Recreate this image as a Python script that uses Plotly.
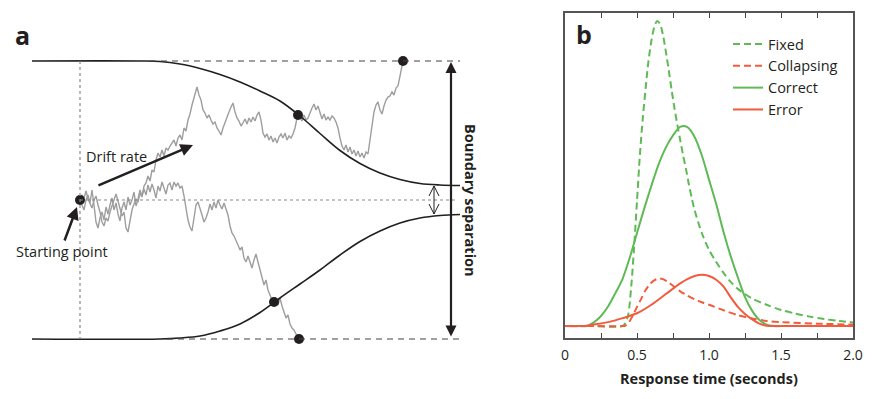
import plotly.graph_objects as go

FONT = "Open Sans"
INK = "#231f20"
GREEN = "#5fba55"
RED = "#f25c3e"
WALK = "#9e9e9e"

# ---------------- Panel b data (response time in s, density in arbitrary units) ----
t_fixed = [0, 0.2, 0.40, 0.42, 0.44, 0.46, 0.48, 0.50, 0.52, 0.54, 0.56, 0.58, 0.60, 0.62, 0.64,
           0.66, 0.68, 0.70, 0.72, 0.74, 0.76, 0.78, 0.80, 0.82, 0.84, 0.86, 0.88, 0.90, 0.95, 1.00,
           1.05, 1.10, 1.15, 1.20, 1.30, 1.40, 1.50, 1.60, 1.70, 1.80, 1.90, 2.00]
fixed = [0, 0, 0, 1, 4, 13, 26, 41, 56, 68, 78, 87, 93.5, 98, 100,
         99, 95.5, 90, 84, 77.5, 71.5, 66, 61, 56, 51.5, 46.5, 42, 38, 30.5, 25,
         21, 17.5, 14.5, 12.2, 9, 7, 5.3, 4.1, 3.1, 2.3, 1.7, 1.2]

t_collapsing = [0, 0.2, 0.40, 0.42, 0.44, 0.46, 0.48, 0.50, 0.53, 0.56, 0.59, 0.62, 0.65, 0.68, 0.71,
                0.75, 0.80, 0.85, 0.90, 0.95, 1.00, 1.10, 1.20, 1.30, 1.40, 1.50, 1.75, 2.00]
collapsing = [0, 0, 0, 0.2, 1, 2.5, 4.3, 6.3, 9, 11.8, 13.8, 15, 15.6, 15.4, 14.6,
              13.2, 11.4, 10, 8.8, 7.8, 7, 5.2, 3.6, 2.5, 1.7, 1.3, 0.8, 0.5]

t_correct = [0, 0.10, 0.15, 0.20, 0.25, 0.30, 0.35, 0.40, 0.45, 0.50, 0.55, 0.60, 0.65, 0.70, 0.75,
             0.80, 0.85, 0.90, 0.95, 1.00, 1.05, 1.10, 1.15, 1.20, 1.25, 1.30, 1.35, 1.40, 1.45,
             1.50, 1.75, 2.00]
correct = [0, 0, 0, 1.2, 3.3, 6.5, 10.8, 15.5, 22.5, 30.5, 38.5, 46, 53, 58.5, 62.5,
           65.3, 65.2, 62, 56, 48, 40, 31, 23, 16, 9.5, 5, 2, 0.5, 0,
           0, 0, 0]

t_error = [0, 0.10, 0.15, 0.20, 0.30, 0.40, 0.50, 0.60, 0.70, 0.80, 0.85, 0.90, 0.95, 1.00, 1.05,
           1.10, 1.15, 1.20, 1.25, 1.30, 1.35, 1.40, 1.45, 1.50, 1.75, 2.00]
error = [0, 0, 0.1, 0.5, 1.3, 2.6, 4.2, 7, 10.5, 14, 15.4, 16.4, 16.8, 16.4, 15.2,
         13, 9.5, 6.3, 4, 2.2, 0.8, 0.1, 0, 0, 0, 0]

x_tickvals = [0, 0.25, 0.5, 0.75, 1.0, 1.25, 1.5, 1.75, 2.0]
x_ticktext = ["0", "", "0.5", "", "1.0", "", "1.5", "", "2.0"]

# ---------------- Panel a data (diagram units: time -> right, evidence -> up) ----------
START_X, START_Y = 80, 200
BOUND_TOP, BOUND_BOT = 61, 339
BOUND_X1 = 460

upper_x = [32, 140, 160, 180, 200, 220, 240, 260, 280, 300, 320, 340, 360, 380, 400, 420, 440, 460]
upper_d = [139, 139, 138.5, 136, 131.5, 125.5, 118, 109, 99, 84, 66.5, 49.5, 36.5, 27, 20.5, 16.5, 15, 14.5]
lower_x = [32, 160, 180, 200, 220, 240, 260, 280, 300, 320, 340, 360, 380, 400, 420, 440, 460]
lower_d = [139, 139, 138, 136, 131, 124, 112.5, 98, 84, 70, 55, 41.5, 31, 23, 18, 15.5, 14.5]

walk_a_x = [80, 82, 84, 86, 88, 90, 92, 94, 96, 98, 100, 102, 104, 106, 108, 110, 112, 114, 116, 118,
            120, 122, 124, 126, 128, 130, 132, 134, 136, 138, 140, 142, 144, 146, 148, 150, 152, 154,
            156, 158, 160, 162, 164, 166, 168, 170, 172, 174, 176, 178, 180, 182, 184, 186, 188, 190,
            192, 194, 196, 197, 199, 201, 203, 205, 207, 209, 211, 213, 215, 217, 219, 221, 223, 225,
            227, 229, 231, 233, 235, 237, 239, 241, 243, 245, 247, 249, 251, 253, 255, 257, 259, 261,
            263, 265, 267, 269, 271, 273, 275, 277, 279, 281, 283, 285, 287, 289, 291, 293, 295, 297,
            298, 300, 302, 304, 306, 308, 310, 312, 314, 316, 318, 320, 322, 324, 326, 328, 330, 332,
            334, 336, 338, 340, 342, 344, 346, 348, 350, 352, 354, 356, 358, 360, 362, 364, 366, 368,
            370, 372, 374, 376, 378, 380, 382, 384, 386, 388, 390, 392, 394, 396, 398, 400, 402, 403]
walk_a_y = [200, 195, 198, 191, 199, 203, 208, 200, 196, 205, 212, 222, 226, 218, 221, 212, 206, 199, 194, 201,
            208, 216, 212, 228, 232, 220, 210, 204, 199, 202, 193, 197, 186, 183, 176, 181, 170, 172,
            160, 153, 157, 150, 156, 148, 150, 146, 143, 140, 146, 138, 135, 140, 128, 131, 120, 114,
            105, 97, 90, 87, 95, 100, 110, 113, 118, 115, 120, 124, 122, 128, 131, 135, 128, 122,
            116, 112, 107, 103, 112, 118, 121, 126, 123, 119, 124, 118, 122, 117, 121, 115, 112, 120,
            133, 137, 134, 140, 136, 142, 138, 143, 137, 134, 138, 133, 140, 136, 138, 134, 128, 116,
            113, 117, 121, 115, 120, 118, 112, 108, 104, 110, 106, 114, 119, 114, 120, 117, 120, 116,
            118, 122, 128, 138, 146, 150, 145, 152, 147, 154, 150, 156, 151, 157, 153, 158, 152, 154,
            138, 122, 112, 105, 102, 110, 114, 106, 100, 97, 96, 92, 95, 88, 86, 76, 67, 61]

walk_b_x = [80, 82, 84, 86, 88, 90, 92, 94, 96, 98, 100, 102, 104, 106, 108, 110, 112, 114, 116, 118,
            120, 122, 124, 126, 128, 130, 132, 134, 136, 138, 140, 142, 144, 146, 148, 150, 152, 154,
            156, 158, 160, 162, 164, 166, 168, 170, 172, 174, 176, 178, 180, 182, 184, 186, 188, 190,
            192, 194, 196, 198, 200, 202, 204, 206, 208, 210, 212, 214, 216, 218, 220, 222, 224, 226,
            228, 230, 232, 234, 236, 238, 240, 242, 244, 246, 248, 250, 252, 254, 256, 258, 260, 262,
            264, 266, 268, 270, 272, 274, 276, 278, 280, 282, 284, 286, 288, 290, 292, 294, 296, 298, 299]
walk_b_y = [200, 205, 210, 200, 195, 203, 190, 205, 222, 228, 218, 212, 220, 207, 214, 205, 198, 210, 203, 214,
            221, 208, 202, 210, 197, 205, 200, 192, 206, 199, 190, 196, 189, 195, 185, 192, 184, 190,
            198, 186, 191, 182, 188, 194, 185, 183, 190, 182, 186, 183, 188, 186, 196, 208, 220, 227,
            231, 218, 205, 202, 210, 215, 222, 218, 212, 204, 210, 202, 208, 200, 205, 209, 203, 208,
            215, 226, 233, 236, 240, 245, 250, 247, 258, 262, 256, 263, 268, 260, 254, 262, 270, 278,
            285, 280, 290, 295, 300, 302, 298, 305, 298, 306, 312, 318, 315, 324, 328, 330, 334, 336, 339]

dots_x = [START_X, 298, 403, 274, 299]
dots_y = [START_Y, 115, BOUND_TOP, 302, BOUND_BOT]

SEP_X = 451          # big "boundary separation" arrow
NARROW_X = 434       # small arrow between collapsed bounds
NARROW_TOP, NARROW_BOT = 186, 214

fig = go.Figure()

# ---------- Panel b traces ----------
fig.add_trace(go.Scatter(x=t_fixed, y=fixed, name="Fixed", mode="lines",
                         line=dict(color=GREEN, width=2, dash="7px,4px", shape="spline", smoothing=0.8),
                         xaxis="x", yaxis="y"))
fig.add_trace(go.Scatter(x=t_collapsing, y=collapsing, name="Collapsing", mode="lines",
                         line=dict(color=RED, width=2, dash="7px,4px", shape="spline", smoothing=0.8),
                         xaxis="x", yaxis="y"))
fig.add_trace(go.Scatter(x=t_correct, y=correct, name="Correct", mode="lines",
                         line=dict(color=GREEN, width=2, shape="spline", smoothing=0.8),
                         xaxis="x", yaxis="y"))
fig.add_trace(go.Scatter(x=t_error, y=error, name="Error", mode="lines",
                         line=dict(color=RED, width=2, shape="spline", smoothing=0.8),
                         xaxis="x", yaxis="y"))

# ---------- Panel a traces ----------
upper_y = [START_Y - d for d in upper_d]
lower_y = [START_Y + d for d in lower_d]

fig.add_trace(go.Scatter(x=walk_a_x, y=walk_a_y, mode="lines", showlegend=False,
                         line=dict(color=WALK, width=1.4), xaxis="x2", yaxis="y2"))
fig.add_trace(go.Scatter(x=walk_b_x, y=walk_b_y, mode="lines", showlegend=False,
                         line=dict(color=WALK, width=1.4), xaxis="x2", yaxis="y2"))
fig.add_trace(go.Scatter(x=upper_x, y=upper_y, mode="lines", showlegend=False,
                         line=dict(color=INK, width=1.6, shape="spline", smoothing=1.0),
                         xaxis="x2", yaxis="y2"))
fig.add_trace(go.Scatter(x=lower_x, y=lower_y, mode="lines", showlegend=False,
                         line=dict(color=INK, width=1.6, shape="spline", smoothing=1.0),
                         xaxis="x2", yaxis="y2"))
fig.add_trace(go.Scatter(x=dots_x, y=dots_y, mode="markers", showlegend=False,
                         marker=dict(color=INK, size=10), xaxis="x2", yaxis="y2"))

shapes = [
    dict(type="line", xref="x2", yref="y2", x0=150, x1=BOUND_X1, y0=BOUND_TOP, y1=BOUND_TOP,
         line=dict(color="#444", width=1.2, dash="6px,5px")),
    dict(type="line", xref="x2", yref="y2", x0=167, x1=BOUND_X1, y0=BOUND_BOT, y1=BOUND_BOT,
         line=dict(color="#444", width=1.2, dash="6px,5px")),
    dict(type="line", xref="x2", yref="y2", x0=START_X, x1=START_X, y0=BOUND_TOP, y1=BOUND_BOT,
         line=dict(color="#888", width=1.2, dash="dot")),
    dict(type="line", xref="x2", yref="y2", x0=START_X, x1=455, y0=START_Y, y1=START_Y,
         line=dict(color="#888", width=1.2, dash="dot")),
    dict(type="line", xref="x2", yref="y2", x0=NARROW_X, x1=NARROW_X, y0=NARROW_TOP, y1=NARROW_BOT,
         line=dict(color=INK, width=1)),
    dict(type="path", xref="x2", yref="y2",
         path=f"M {NARROW_X-5},{NARROW_TOP+10} L {NARROW_X},{NARROW_TOP} L {NARROW_X+5},{NARROW_TOP+10}",
         line=dict(color=INK, width=1)),
    dict(type="path", xref="x2", yref="y2",
         path=f"M {NARROW_X-5},{NARROW_BOT-10} L {NARROW_X},{NARROW_BOT} L {NARROW_X+5},{NARROW_BOT-10}",
         line=dict(color=INK, width=1)),
]

TXT = 14.5
annotations = [
    dict(text="<b>a</b>", x=22, y=35, xref="x2", yref="y2", showarrow=False,
         font=dict(family=FONT, size=25, color=INK)),
    dict(text="<b>b</b>", x=584, y=34, xref="x2", yref="y2", showarrow=False,
         font=dict(family=FONT, size=25, color=INK)),
    dict(text="Drift rate", x=116, y=156, xref="x2", yref="y2", showarrow=False,
         font=dict(family=FONT, size=TXT, color=INK)),
    dict(text="Starting point", x=62, y=251, xref="x2", yref="y2", showarrow=False,
         font=dict(family=FONT, size=TXT, color=INK)),
    dict(text="<b>Boundary separation</b>", x=471, y=200, xref="x2", yref="y2", showarrow=False,
         textangle=90, font=dict(family=FONT, size=TXT, color=INK)),
    dict(text="", x=193, y=145, ax=97, ay=186, xref="x2", yref="y2", axref="x2", ayref="y2",
         showarrow=True, arrowhead=2, arrowsize=1, arrowwidth=2.5, arrowcolor=INK),
    dict(text="", x=77, y=207, ax=64, ay=242, xref="x2", yref="y2", axref="x2", ayref="y2",
         showarrow=True, arrowhead=2, arrowsize=1, arrowwidth=2.5, arrowcolor=INK),
    dict(text="", x=SEP_X, y=BOUND_TOP + 1, ax=SEP_X, ay=BOUND_BOT - 1, xref="x2", yref="y2",
         axref="x2", ayref="y2", showarrow=True, arrowhead=2, startarrowhead=2, arrowside="end+start",
         arrowsize=1, startarrowsize=1, arrowwidth=2.2, arrowcolor=INK),
    dict(text="<b>Response time (seconds)</b>", x=709, y=378, xref="x2", yref="y2", showarrow=False,
         font=dict(family=FONT, size=TXT, color=INK)),
]

W, H = 876, 399
fig.update_layout(
    width=W, height=H, margin=dict(l=0, r=0, t=0, b=0, autoexpand=False),
    paper_bgcolor="white", plot_bgcolor="rgba(0,0,0,0)",
    font=dict(family=FONT, size=TXT, color=INK),
    xaxis=dict(domain=[565 / W, 853 / W], range=[0, 2], tickvals=x_tickvals, ticktext=x_ticktext,
               ticks="inside", ticklen=5, tickwidth=1, tickcolor="#444", showline=True, linecolor="#555",
               linewidth=1.5, mirror="ticks", showgrid=False, zeroline=False, anchor="y",
               tickfont=dict(size=14, color=INK), ticklabelstandoff=3, automargin=False, fixedrange=True),
    yaxis=dict(domain=[(H - 338) / H, (H - 13) / H], range=[-3.9, 102.6], showticklabels=False,
               ticks="", showline=True, linecolor="#555", linewidth=1.5, mirror=True, showgrid=False,
               zeroline=False, anchor="x", automargin=False, fixedrange=True),
    xaxis2=dict(domain=[0, 1], range=[0, W], visible=False, anchor="y2", automargin=False, fixedrange=True),
    yaxis2=dict(domain=[0, 1], range=[H, 0], visible=False, anchor="x2", automargin=False, fixedrange=True),
    legend=dict(x=728 / W, y=(H - 28) / H, xanchor="left", yanchor="top", bgcolor="rgba(0,0,0,0)",
                font=dict(family=FONT, size=TXT, color=INK), itemwidth=30, tracegroupgap=0),
    shapes=shapes, annotations=annotations,
)

fig.write_html("out.html", config={"displayModeBar": False},
               post_script="document.body.style.margin='0';document.body.style.padding='0';")
